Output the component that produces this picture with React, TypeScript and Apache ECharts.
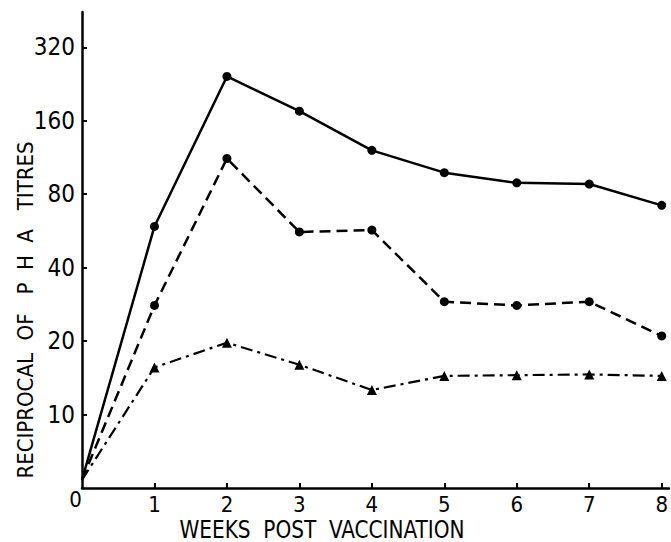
import React, { useEffect, useRef } from "react";
import * as echarts from "echarts";

const weeks = [0, 1, 2, 3, 4, 5, 6, 7, 8];
const solidTitres = [5.4, 59, 243, 175, 121, 98, 89, 88, 72];
const dashedTitres = [5.4, 28, 112, 56, 57, 29, 28, 29, 21];
const dashDotTitres = [5.4, 15.6, 19.7, 16, 12.6, 14.4, 14.5, 14.6, 14.4];
const yTickValues = [-1, 0, 1, 2, 3, 4, 5]; // log2(titre/10); -1 is the origin "0"
const xTickValues = [0, 1, 2, 3, 4, 5, 6, 7, 8];

const FONT = "'Liberation Sans Narrow', 'DejaVu Sans Condensed', 'Roboto', sans-serif";

const toLog = (v: number) => Math.log2(v / 10);

const buildData = (titres: number[], marker: string) =>
  titres.map((t, i) =>
    i === 0
      ? { value: [weeks[i], toLog(t)], symbol: "none" }
      : { value: [weeks[i], toLog(t)], symbol: marker }
  );

export default function App() {
  const ref = useRef<HTMLDivElement>(null);
  useEffect(() => {
    if (!ref.current) return;
    const chart = echarts.init(ref.current, undefined, { renderer: "svg" });
    const lineBase = { type: "line", z: 3, lineStyle: { color: "#000" }, itemStyle: { color: "#000" } };
    chart.setOption({
      animation: false,
      backgroundColor: "#fff",
      grid: { left: 82, right: 1, top: 12, bottom: 54, containLabel: false },
      xAxis: {
        type: "value",
        min: 0,
        max: 8.1,
        interval: 1,
        splitLine: { show: false },
        axisLine: { onZero: false, lineStyle: { color: "#000", width: 2.5 } },
        axisTick: { show: true, inside: true, length: 5, customValues: xTickValues.slice(1), lineStyle: { color: "#000", width: 2 } },
        axisLabel: {
          customValues: xTickValues,
          fontFamily: FONT,
          fontSize: 22,
          color: "#000",
          verticalAlign: "middle",
          margin: 16,
          formatter: (v: number) => (v === 0 ? "{z|0}" : String(v)),
          rich: { z: { fontFamily: FONT, fontSize: 22, color: "#000", padding: [0, 13, 10, 0] } },
        },
      },
      yAxis: {
        type: "value",
        min: -1,
        max: 5.48,
        interval: 1,
        splitLine: { show: false },
        axisLine: { onZero: false, lineStyle: { color: "#000", width: 2.5 } },
        axisTick: { show: true, inside: true, length: 5, customValues: yTickValues.slice(1), lineStyle: { color: "#000", width: 2 } },
        axisLabel: {
          customValues: yTickValues.slice(1),
          fontFamily: FONT,
          fontSize: 24,
          color: "#000",
          margin: 7,
          verticalAlign: "middle",
          padding: [0, 0, 12, 0],
          formatter: (v: number) => String(Math.round(10 * Math.pow(2, v))),
        },
      },
      graphic: [
        {
          type: "text",
          x: 322,
          y: 529,
          scaleX: 0.93,
          style: {
            text: "WEEKS  POST  VACCINATION",
            fontFamily: FONT,
            fontSize: 24,
            fill: "#000",
            align: "center",
            verticalAlign: "middle",
          },
        },
        {
          type: "text",
          x: 25,
          y: 310,
          rotation: Math.PI / 2,
          style: {
            text: "RECIPROCAL  OF   P  H  A   TITRES",
            fontFamily: FONT,
            fontSize: 22,
            fill: "#000",
            align: "center",
            verticalAlign: "middle",
          },
        },
      ],
      series: [
        {
          ...lineBase,
          name: "solid",
          data: buildData(solidTitres, "circle"),
          symbolSize: 9,
          lineStyle: { color: "#000", width: 2.5, type: "solid" },
        },
        {
          ...lineBase,
          name: "dashed",
          data: buildData(dashedTitres, "circle"),
          symbolSize: 9,
          lineStyle: { color: "#000", width: 2.5, type: [11, 6] },
        },
        {
          ...lineBase,
          name: "dashdot",
          data: buildData(dashDotTitres, "triangle"),
          symbolSize: 10,
          lineStyle: { color: "#000", width: 2.2, type: [12, 5, 3, 5] },
        },
      ],
    });
    return () => chart.dispose();
  }, []);
  return (
    <div
      ref={ref}
      style={{ position: "fixed", left: 0, top: 0, width: 671, height: 542, background: "#fff" }}
    />
  );
}
